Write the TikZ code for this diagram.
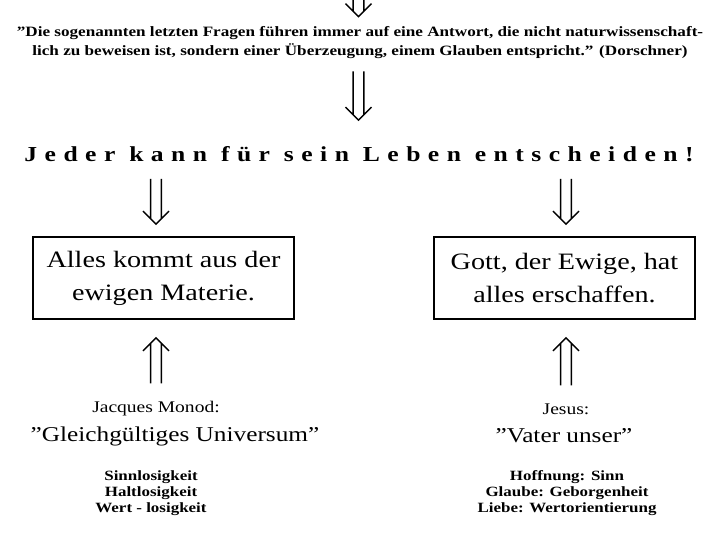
\documentclass[tikz,border=0pt]{standalone}
\usepackage{fontspec}
\setmainfont[FakeStretch=1.2]{Liberation Serif}
\usepackage{tikz}
\usetikzlibrary{calc}

\begin{document}
\begin{tikzpicture}[x=0.75pt,y=-0.75pt,
  dblarrow/.style={line width=1.1pt,to path={let \p1=(\tikztostart), \p2=(\tikztotarget) in
    (\x1-4.1pt,\y1) -- (\x2-4.1pt,\y2+#1*4.1pt)
    (\x1+4.1pt,\y1) -- (\x2+4.1pt,\y2+#1*4.1pt)
    (\x2-9.75pt,\y2+#1*9.75pt) -- (\x2,\y2) -- (\x2+9.75pt,\y2+#1*9.75pt)}},
  answerbox/.style={draw,line width=1.4pt,minimum width=195.75pt,minimum height=61.5pt,inner sep=0pt,align=center,font=\fontsize{17.6}{24.75}\selectfont},
  listtext/.style={inner sep=0pt,align=center,font=\fontsize{10.6}{12}\selectfont\bfseries}]
\useasboundingbox (0,0) rectangle (721,553);

% Text Node
\node (quote) [inner sep=0pt,align=center,font=\fontsize{10.7}{14.25}\selectfont\bfseries] at (360,43) {”Die sogenannten letzten Fragen führen immer auf eine Antwort, die nicht naturwissenschaft-\\lich zu beweisen ist, sondern einer Überzeugung, einem Glauben entspricht.” (Dorschner)};
% Text Node
\node (jeder) [inner sep=0pt,font=\fontsize{16}{18}\selectfont\bfseries\addfontfeature{LetterSpace=35}] at (359,154) {Jeder kann für sein Leben entscheiden!};

%Shape: Rectangle
\node (materie) [answerbox] at (163.5,278) {Alles kommt aus der\\ewigen Materie.};
%Shape: Rectangle
\node (gott) [answerbox] at (564.5,278) {Gott, der Ewige, hat\\alles erschaffen.};

% Text Node
\node (monod) [inner sep=0pt,font=\fontsize{12.2}{14}\selectfont] at (156,409) {Jacques Monod:};
\node (monodq) [inner sep=0pt,font=\fontsize{15.8}{18}\selectfont] at (175,436) {”Gleichgültiges Universum”};
\node (sinnlos) [listtext] at (151,493) {Sinnlosigkeit\\Haltlosigkeit\\Wert - losigkeit};
% Text Node
\node (jesus) [inner sep=0pt,font=\fontsize{12.2}{14}\selectfont] at (566,409) {Jesus:};
\node (jesusq) [inner sep=0pt,font=\fontsize{15.8}{18}\selectfont] at (564,436) {”Vater unser”};
\node (hoffnung) [listtext] at (567,493) {Hoffnung: Sinn\\Glaube: Geborgenheit\\Liebe: Wertorientierung};

%Straight Lines
\coordinate (top) at (358.5,0);
\draw [dblarrow=1] (top) to ($(quote.north -| top)+(0,-10)$);
\draw [dblarrow=1] ($(quote.south -| top)+(0,12)$) to ($(jeder.north -| top)+(0,-26)$);
\draw [dblarrow=1] ($(jeder.south -| monod)+(0,17)$) to ($(materie.north -| monod)+(0,-12)$);
\draw [dblarrow=1] ($(jeder.south -| jesus)+(0,17)$) to ($(gott.north -| jesus)+(0,-12)$);
\draw [dblarrow=-1] ($(monod.north)+(0,-18)$) to ($(materie.south -| monod)+(0,18)$);
\draw [dblarrow=-1] ($(jesus.north)+(0,-18)$) to ($(gott.south -| jesus)+(0,18)$);

\end{tikzpicture}
\end{document}
